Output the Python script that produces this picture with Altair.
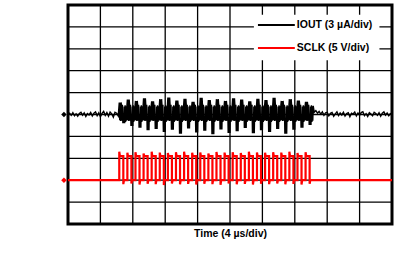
import altair as alt
import pandas as pd

# ---- axes: time in µs (4 µs/div), amplitude in screen divisions ----
X_TICKS = [0, 4, 8, 12, 16, 20, 24, 28, 32, 36, 40]
Y_TICKS = [-5, -4, -3, -2, -1, 0, 1, 2, 3, 4, 5]

series_names = ["IOUT (3 µA/div)", "SCLK (5 V/div)"]
series_colors = ["#000000", "#ff0000"]
series_ground = [0.0, -3.0]          # channel reference level (div)

# ---- SCLK (red): 24 clock pulses ----
sclk_rise = [6.33, 7.33, 8.33, 9.33, 10.33, 11.33, 12.33, 13.33, 14.33, 15.33, 16.33, 17.33,
             18.33, 19.33, 20.33, 21.33, 22.33, 23.33, 24.33, 25.33, 26.33, 27.33, 28.33, 29.33]
sclk_low = -3.0
sclk_high = -1.9
sclk_over = [-1.70, -1.75, -1.72, -1.78, -1.70, -1.74, -1.76, -1.72, -1.70, -1.75, -1.73, -1.78,
             -1.71, -1.74, -1.72, -1.76, -1.70, -1.73, -1.75, -1.72, -1.74, -1.70, -1.76, -1.72]
sclk_under = [-3.18, -3.15, -3.20, -3.16, -3.18, -3.22, -3.15, -3.19, -3.17, -3.20, -3.16, -3.18,
              -3.21, -3.15, -3.19, -3.17, -3.20, -3.16, -3.18, -3.15, -3.19, -3.17, -3.20, -3.16]

# ---- IOUT (black) ----
iout_pre = [0.00, 0.06, -0.04, 0.08, -0.06, 0.03, -0.08, 0.05, 0.10, -0.03, 0.07, -0.09,
            0.04, -0.02, 0.09, -0.07, 0.06, 0.12, -0.05, 0.08, -0.10, 0.05, 0.14, -0.04,
            0.09, -0.08, 0.11, 0.03, -0.12, 0.10, 0.06, -0.07]
iout_up = [0.55, 0.68, 0.62, 0.74, 0.60, 0.70, 0.78, 0.64, 0.72, 0.58, 0.76, 0.66,
           0.70, 0.62, 0.74, 0.68, 0.60, 0.72, 0.66, 0.76, 0.62, 0.70, 0.64, 0.58]
iout_dn = [-0.40, -0.52, -0.60, -0.72, -0.66, -0.80, -0.70, -0.88, -0.64, -0.82, -0.74, -0.90,
           -0.68, -0.84, -0.76, -0.62, -0.86, -0.72, -0.80, -0.66, -0.88, -0.70, -0.60, -0.48]
iout_band = [-0.26, -0.30, 0.40, -0.28, 0.44, -0.26, 0.36, 0.42, -0.34, 0.38, -0.28, 0.40]
iout_post = [0.10, 0.18, 0.06, 0.14, 0.02, 0.12, -0.04, 0.08, 0.10, -0.06, 0.05, 0.09,
             -0.08, 0.03, 0.12, -0.05, 0.07, -0.02, 0.10, -0.07, 0.04, 0.08, -0.10, 0.06,
             0.02, 0.11, -0.06, 0.07, -0.03, 0.09, 0.13, -0.05, 0.04, -0.09, 0.08, 0.02,
             -0.06, 0.10, 0.05, -0.04, 0.08, -0.08, 0.06, 0.12, -0.03, 0.07, -0.06, 0.04, 0.02]

# ---- build traces ----
sclk_pts = [(0.0, sclk_low)]
for i, r in enumerate(sclk_rise):
    sclk_pts += [(r, sclk_low), (r, sclk_over[i]), (r + 0.08, sclk_high),
                 (r + 0.5, sclk_high), (r + 0.5, sclk_under[i]), (r + 0.58, sclk_low)]
sclk_pts.append((40.0, sclk_low))
sclk_df = pd.DataFrame({"t": [p[0] for p in sclk_pts], "v": [p[1] for p in sclk_pts],
                        "i": list(range(len(sclk_pts)))})

iout_pts = []
n = len(iout_pre)
for k, v in enumerate(iout_pre):
    iout_pts.append((6.2 * k / (n - 1), v))
b = iout_band
for i, r in enumerate(sclk_rise):
    up, dn = iout_up[i], iout_dn[i]
    seq = [up, b[0], up, b[1], up, b[2], b[3], b[4], dn, b[5], dn, b[6], dn, b[7], b[8], b[9],
           b[10], b[11]]
    for k, v in enumerate(seq):
        iout_pts.append((r + k / len(seq), v))
m = len(iout_post)
for k, v in enumerate(iout_post):
    iout_pts.append((30.4 + 9.6 * k / (m - 1), v))
iout_df = pd.DataFrame({"t": [p[0] for p in iout_pts], "v": [p[1] for p in iout_pts],
                        "i": list(range(len(iout_pts)))})

one_row = pd.DataFrame({"k": [0]})
xgrid_df = pd.DataFrame({"t": X_TICKS})
ygrid_df = pd.DataFrame({"v": Y_TICKS})

FONT = "Liberation Sans"
xs = alt.Scale(domain=[0, 40], nice=False, zero=False)
ys = alt.Scale(domain=[-5, 5], nice=False, zero=False)
xa = alt.Axis(values=X_TICKS, grid=False, labels=False, ticks=False, domain=False,
              titleFont=FONT, titleFontSize=10.5, titleFontWeight="bold",
              titleColor="black", titlePadding=4)
ya = alt.Axis(values=Y_TICKS, grid=False, labels=False, ticks=False, domain=False)

X = alt.X("t:Q", scale=xs, axis=xa, title="Time (4 µs/div)")
Y = alt.Y("v:Q", scale=ys, axis=ya, title=None)

xgrid = alt.Chart(xgrid_df).mark_rule(color="black", strokeWidth=1.3).encode(x=X)
ygrid = alt.Chart(ygrid_df).mark_rule(color="black", strokeWidth=1.3).encode(y=Y)

legend_bg = alt.Chart(one_row).mark_rect(color="white").encode(
    x=alt.datum(22.95), x2=alt.datum(38.45), y=alt.datum(4.55), y2=alt.datum(2.48))

sclk_line = alt.Chart(sclk_df).mark_line(color=series_colors[1], strokeWidth=2.2).encode(
    x=X, y=Y, order="i:Q")
iout_line = alt.Chart(iout_df).mark_line(color=series_colors[0], strokeWidth=1.4).encode(
    x=X, y=Y, order="i:Q")

layers = [xgrid, ygrid, legend_bg, sclk_line, iout_line]
legend_y = [4.09, 3.04]
for name, col, ly, g in zip(series_names, series_colors, legend_y, series_ground):
    layers.append(alt.Chart(one_row).mark_rule(color=col, strokeWidth=2).encode(
        x=alt.datum(23.45), x2=alt.datum(28.0), y=alt.datum(ly)))
    layers.append(alt.Chart(one_row).mark_text(
        align="left", baseline="middle", font=FONT, fontSize=10.5, fontWeight="bold",
        color="black").encode(x=alt.datum(28.25), y=alt.datum(ly), text=alt.value(name)))
    layers.append(alt.Chart(one_row).mark_point(
        shape="diamond", filled=True, size=30, color=col, opacity=1).encode(
        x=alt.datum(-0.5), y=alt.datum(g)))

chart = alt.layer(*layers).properties(
    width=324, height=219,
    autosize=alt.AutoSizeParams(type="none"),
    padding={"left": 68, "top": 5, "right": 14, "bottom": 42},
    background="white",
).configure_view(stroke="black", strokeWidth=3)

chart.save("out.html", embed_options={"renderer": "svg", "actions": False})
